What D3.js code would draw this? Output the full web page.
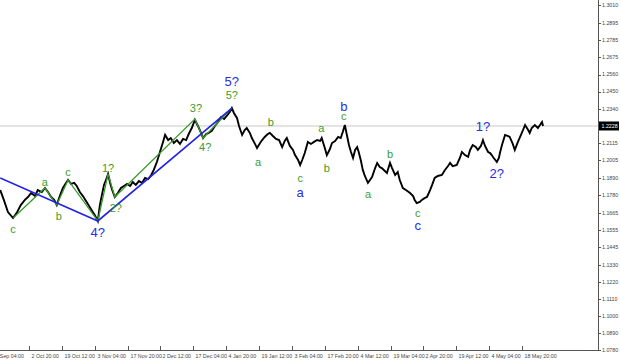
<!DOCTYPE html>
<html><head><meta charset="utf-8">
<script src="https://cdn.jsdelivr.net/npm/d3@7/dist/d3.min.js"></script>
<style>body{margin:0;background:#fff;}svg{display:block;font-family:"Liberation Sans",Arial,sans-serif;}</style>
</head><body><svg id="c" width="620" height="361"></svg>
<script>
// H4 bar index vs close price
const priceSeries = [
[8,1.1814],[15,1.1750],[23,1.1672],[33,1.1633],[41,1.1672],[48,1.1717],[56,1.1750],[62,1.1769],[68,1.1795],[76,1.1775],[81,1.1814],[89,1.1801],[95,1.1827],[101,1.1801],[107,1.1769],[113,1.1750],[118,1.1717],[124,1.1775],[130,1.1827],[136,1.1860],[140,1.1879],[146,1.1853],[152,1.1860],[157,1.1840],[163,1.1801],[169,1.1775],[175,1.1743],[181,1.1711],[187,1.1679],[192,1.1653],[198,1.1614],
[202,1.1717],[206,1.1782],[210,1.1847],[214,1.1879],[218,1.1918],[222,1.1860],[226,1.1814],[231,1.1769],[237,1.1795],[243,1.1827],[249,1.1840],[255,1.1853],[261,1.1840],[266,1.1866],[272,1.1847],[278,1.1872],[284,1.1860],[290,1.1892],[296,1.1885],[302,1.1911],[307,1.1944],[313,1.1995],[319,1.2060],[325,1.2125],[329,1.2170],[335,1.2137],[340,1.2150],[346,1.2118],[352,1.2137],[358,1.2112],[364,1.2144],[370,1.2137],[375,1.2176],[381,1.2215],[387,1.2267],[393,1.2228],[399,1.2183],[403,1.2150],[409,1.2176],[414,1.2183],[420,1.2196],[426,1.2228],[432,1.2254],[438,1.2286],[444,1.2273],[449,1.2293],[455,1.2319],[459,1.2344],
[463,1.2312],[469,1.2280],[473,1.2228],[479,1.2170],[484,1.2202],[488,1.2215],[494,1.2183],[498,1.2150],[504,1.2112],[508,1.2086],[514,1.2118],[518,1.2137],[523,1.2157],[529,1.2176],[533,1.2183],[539,1.2163],[545,1.2144],[551,1.2137],[557,1.2092],[562,1.2131],[566,1.2150],[572,1.2099],[578,1.2073],[582,1.2040],[588,1.2008],[592,1.1976],
[596,1.2008],[601,1.2053],[607,1.2125],[613,1.2112],[619,1.2125],[625,1.2137],[631,1.2131],[634,1.2150],[640,1.2086],[644,1.2040],[650,1.2079],[654,1.2118],[660,1.2131],[666,1.2157],[671,1.2150],[675,1.2189],[679,1.2234],
[683,1.2170],[687,1.2105],[691,1.2060],[695,1.2021],[699,1.2073],[703,1.2092],[706,1.2060],[710,1.2008],[714,1.1944],[718,1.1905],[724,1.1860],[728,1.1879],[732,1.1898],[738,1.1956],[742,1.1989],[747,1.1963],[751,1.1956],[757,1.1937],[761,1.1924],[767,1.1989],[771,1.1956],[777,1.1911],[782,1.1931],[786,1.1879],[792,1.1827],[798,1.1814],[806,1.1795],[812,1.1775],[815,1.1750],[819,1.1730],
[825,1.1737],[829,1.1750],[835,1.1763],[839,1.1769],[845,1.1814],[849,1.1847],[854,1.1892],[860,1.1905],[868,1.1911],[874,1.1944],[880,1.1969],[884,1.1989],[889,1.1969],[897,1.1976],[903,1.2021],[907,1.2060],[913,1.2040],[919,1.2028],[923,1.2073],[928,1.2105],[934,1.2092],[938,1.2073],[944,1.2099],[948,1.2137],
[952,1.2099],[958,1.2060],[962,1.2053],[965,1.2040],[969,1.2021],[975,1.1995],[979,1.2021],[981,1.2053],[985,1.2105],[991,1.2170],[997,1.2163],[1000,1.2157],[1006,1.2112],[1010,1.2073],[1016,1.2125],[1022,1.2170],[1026,1.2202],[1030,1.2234],[1036,1.2202],[1039,1.2183],[1043,1.2215],[1049,1.2234],[1055,1.2215],[1059,1.2234],[1063,1.2254],[1065,1.2228]
];
const currentPrice = 1.2228;
const priceTicks = [1.3010,1.2895,1.2785,1.2675,1.2560,1.2450,1.2340,1.2230,1.2115,1.2005,1.1890,1.1780,1.1665,1.1555,1.1445,1.1330,1.1220,1.1110,1.1000,1.0890,1.0780];
const timeLabels = ["16 Sep 04:00","2 Oct 20:00","19 Oct 12:00","3 Nov 04:00","17 Nov 20:00","2 Dec 12:00","17 Dec 04:00","4 Jan 20:00","19 Jan 12:00","3 Feb 04:00","17 Feb 20:00","4 Mar 12:00","19 Mar 04:00","2 Apr 20:00","19 Apr 12:00","4 May 04:00","18 May 20:00"];
const timeBars = [-12,64,128,192,256,320,384,448,512,576,640,704,768,832,896,960,1024];
// wave lines
const blueWave = [[8,1.1892],[198,1.1614],[459,1.2344]];
const greenWave = [[33,1.1633],[95,1.1827],[118,1.1717],[140,1.1879],[198,1.1614],[218,1.1918],[231,1.1769],[387,1.2273],[403,1.2150],[459,1.2344]];
const greenLabels = [["c",33,1.1562],["a",95,1.1866],["b",122,1.1646],["c",140,1.1931],["1?",218,1.1956],["2?",233,1.1698],["3?",389,1.2344],["4?",407,1.2092],["5?",459,1.2428],["a",510,1.1995],["b",535,1.2254],["c",592,1.1892],["a",633,1.2215],["b",644,1.1956],["c",677,1.2293],["a",724,1.1788],["b",767,1.2047],["c",821,1.1666]];
const blueLabels = [["4?",198,1.1543],["5?",459,1.2519],["a",592,1.1801],["b",677,1.2357],["c",821,1.1582],["1?",948,1.2228],["2?",975,1.1924]];

const svg = d3.select("#c");
const W = 598, B = 350;
const x = d3.scaleLinear().domain([64,1024]).range([29,522]);
const y = d3.scaleLinear().domain([1.0780,1.3010]).range([B,5]);

// current price line
svg.append("line").attr("x1",0).attr("x2",W).attr("y1",y(currentPrice)).attr("y2",y(currentPrice))
  .attr("stroke","#c8c8c8").attr("stroke-width",1);

// price path
const line = d3.line().x(d=>x(d[0])).y(d=>y(d[1]));
svg.append("path").datum(priceSeries).attr("d",line).attr("fill","none")
  .attr("stroke","#000").attr("stroke-width",1.9).attr("stroke-linejoin","miter");

// waves
svg.append("path").datum(greenWave).attr("d",line).attr("fill","none").attr("stroke","#3a9a2a").attr("stroke-width",1.3);
svg.append("path").datum(blueWave).attr("d",line).attr("fill","none").attr("stroke","#2323e6").attr("stroke-width",1.6);

svg.selectAll("text.g").data(greenLabels).join("text").attr("class","g")
  .attr("x",d=>x(d[1])).attr("y",d=>y(d[2])).attr("dy","0.35em").attr("text-anchor","middle")
  .attr("fill","#3c9c2c").attr("font-size",11).text(d=>d[0]);
svg.selectAll("text.b").data(blueLabels).join("text").attr("class","b")
  .attr("x",d=>x(d[1])).attr("y",d=>y(d[2])).attr("dy","0.35em").attr("text-anchor","middle")
  .attr("fill","#2a2ae8").attr("font-size",13).text(d=>d[0]);

// frame
svg.append("line").attr("x1",W+0.5).attr("x2",W+0.5).attr("y1",0).attr("y2",B+0.5).attr("stroke","#555");
svg.append("line").attr("x1",0).attr("x2",W+0.5).attr("y1",B+0.5).attr("y2",B+0.5).attr("stroke","#555");

// price axis
const pa = svg.append("g");
priceTicks.forEach(v=>{
  pa.append("line").attr("x1",W).attr("x2",W+3).attr("y1",Math.round(y(v))+0.5).attr("y2",Math.round(y(v))+0.5).attr("stroke","#555");
  pa.append("text").attr("x",W+4).attr("y",y(v)).attr("dy","0.35em").attr("font-size",5.3).attr("fill","#444").text(v.toFixed(4));
});
// current price box
const cy = y(currentPrice);
svg.append("rect").attr("x",W+1).attr("y",cy-4.5).attr("width",20).attr("height",9).attr("fill","#000");
svg.append("text").attr("x",W+3.5).attr("y",cy).attr("dy","0.35em").attr("font-size",5.3).attr("fill","#fff").text(currentPrice.toFixed(4));

// time axis
const ta = svg.append("g");
timeBars.forEach((b,i)=>{
  const px = Math.round(x(b))+0.5;
  ta.append("line").attr("x1",px).attr("x2",px).attr("y1",B-4).attr("y2",B).attr("stroke","#555");
  ta.append("text").attr("x",px+2).attr("y",B+7.5).attr("font-size",5.3).attr("fill","#444").text(timeLabels[i]);
});
</script></body></html>
